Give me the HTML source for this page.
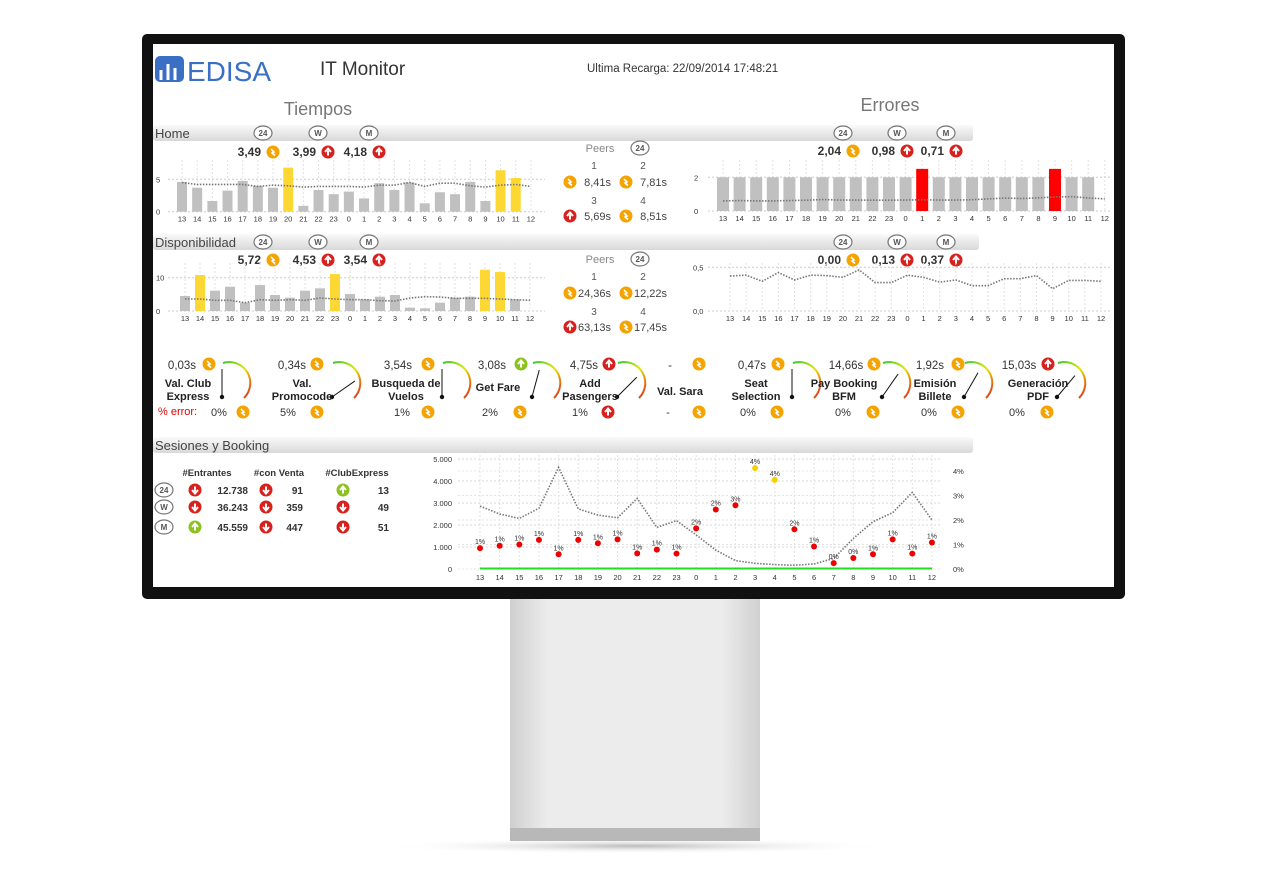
<!DOCTYPE html>
<html><head><meta charset="utf-8"><style>
html,body{margin:0;padding:0;background:#fff;width:1275px;height:889px;overflow:hidden}
svg{display:block;font-family:"Liberation Sans",sans-serif}
</style></head><body>
<svg id="s" width="1275" height="889" viewBox="0 0 1275 889" xmlns="http://www.w3.org/2000/svg">
<defs>
<linearGradient id="bar" x1="0" y1="0" x2="0" y2="1"><stop offset="0" stop-color="#fafafa"/><stop offset="1" stop-color="#d8d8d8"/></linearGradient>
<linearGradient id="stand" x1="0" y1="0" x2="1" y2="0"><stop offset="0" stop-color="#cfcfcf"/><stop offset="0.15" stop-color="#ececec"/><stop offset="0.85" stop-color="#ececec"/><stop offset="1" stop-color="#d0d0d0"/></linearGradient>
<radialGradient id="shadow"><stop offset="0" stop-color="#bbb"/><stop offset="1" stop-color="#fff" stop-opacity="0"/></radialGradient>
<linearGradient id="gaugeG" x1="0" y1="0" x2="1" y2="1"><stop offset="0" stop-color="#33cc33"/><stop offset="0.5" stop-color="#e6e600"/><stop offset="1" stop-color="#e02020"/></linearGradient>
</defs>
<ellipse cx="635" cy="846" rx="260" ry="8" fill="url(#shadow)"/>
<rect x="510" y="596" width="250" height="235" fill="url(#stand)"/>
<rect x="510" y="828" width="250" height="13" fill="#b8b8b8"/>
<rect x="142" y="34" width="983" height="565" rx="5" fill="#111"/>
<rect x="153" y="44" width="961" height="543" fill="#fff"/>
<g id="root"></g>
</svg>
<script>
// ---- data ----
const hours = ["13","14","15","16","17","18","19","20","21","22","23","0","1","2","3","4","5","6","7","8","9","10","11","12"];
const homeVals = [4.6,3.7,1.65,3.25,4.75,4.0,3.7,6.8,0.9,3.35,2.7,3.1,2.05,4.4,3.35,4.5,1.3,3.0,2.7,4.6,1.65,6.4,5.2,0];
const homeTrend = [4.5,4.2,4.2,4.2,4.2,3.9,4.1,4.0,3.8,3.9,3.9,3.9,3.8,4.1,4.1,4.5,3.9,4.4,4.4,4.0,3.8,4.1,4.2,3.9];
const dispVals = [4.5,10.8,6.1,7.3,2.5,7.8,4.8,4.0,6.1,6.8,11.1,5.1,3.5,4.3,4.8,1.0,0.8,2.5,4.0,4.3,12.4,11.7,3.5,0];
const dispTrend = [3.6,3.6,3.2,3.2,2.5,3.4,3.2,3.4,3.2,3.9,3.6,3.4,3.4,3.1,3.0,3.9,4.3,4.2,3.8,3.8,3.8,3.6,3.4,3.2];
const errVals = [2,2,2,2,2,2,2,2,2,2,2,2,2.5,2,2,2,2,2,2,2,2.5,2,2,0];
const errTrend = [0.6,0.62,0.6,0.6,0.62,0.64,0.68,0.65,0.65,0.64,0.64,0.65,0.67,0.65,0.65,0.67,0.72,0.77,0.74,0.78,0.83,0.85,0.77,0.72];
const err2Line = [0.40,0.41,0.34,0.44,0.355,0.41,0.405,0.385,0.47,0.325,0.325,0.41,0.385,0.33,0.355,0.29,0.29,0.37,0.37,0.405,0.255,0.35,0.35,0.34];
const sesEntrantes = [2860,2500,2300,2760,4620,2730,2450,2330,3210,1890,2200,1550,860,380,260,200,170,230,480,1390,2150,2560,3480,2230];
const sesConv = [0.85,0.95,1.0,1.19,0.6,1.19,1.05,1.21,0.64,0.79,0.63,1.66,2.43,2.6,4.12,3.64,1.62,0.92,0.24,0.45,0.6,1.21,0.63,1.08];
const sesConvLabels = ["1%","1%","1%","1%","1%","1%","1%","1%","1%","1%","1%","2%","2%","3%","4%","4%","2%","1%","0%","0%","1%","1%","1%","1%"];
const sesClub = [20,20,20,20,20,20,20,20,20,20,20,20,20,20,20,20,20,20,20,20,20,20,20,20];
const sesLeftTicks = [0,1000,2000,3000,4000,5000];
const sesLeftLabels = ["0","1.000","2.000","3.000","4.000","5.000"];
const sesRightTicks = [0,1,2,3,4];
const sesRightLabels = ["0%","1%","2%","3%","4%"];

const NS="http://www.w3.org/2000/svg";
const root=document.getElementById('root');
function mk(tag,attrs,parent){const e=document.createElementNS(NS,tag);for(const k in attrs)e.setAttribute(k,attrs[k]);(parent||root).appendChild(e);return e;}
function txt(x,y,s,size,opts){opts=opts||{};const e=mk('text',{x:x,y:y,'font-size':size,fill:opts.fill||'#333','text-anchor':opts.anchor||'start','font-weight':opts.bold?'bold':'normal'});e.textContent=s;return e;}

function icon(cx,cy,kind){
  const col={o:'#f5a300',r:'#d8201c',g:'#8cc21e'}[kind[0]];
  const g=mk('g',{});
  mk('circle',{cx:cx,cy:cy,r:6.5,fill:col},g);
  if(kind==='o'){mk('path',{d:`M${cx-2} ${cy-3} L${cx+1} ${cy} L${cx-1} ${cy+1} L${cx+2} ${cy+3.5}`,stroke:'#fff','stroke-width':1.6,fill:'none'},g);}
  else if(kind.length>1&&kind[1]==='d'){mk('path',{d:`M${cx} ${cy-3.5} V${cy+1.5} M${cx-3} ${cy} L${cx} ${cy+3.5} L${cx+3} ${cy}`,stroke:'#fff','stroke-width':2,fill:'none'},g);}
  else{mk('path',{d:`M${cx} ${cy+3.5} V${cy-1.5} M${cx-3} ${cy} L${cx} ${cy-3.5} L${cx+3} ${cy}`,stroke:'#fff','stroke-width':2,fill:'none'},g);}
  return g;
}
function period(cx,cy,label){
  const g=mk('g',{});
  mk('ellipse',{cx:cx,cy:cy,rx:9,ry:7,fill:'#fff',stroke:'#777','stroke-width':1.2},g);
  const t=txt(cx,cy+3,label,8,{anchor:'middle',bold:true,fill:'#555'});g.appendChild(t);
  return g;
}

let e;
e=mk('g',{});


mk('rect',{x:155,y:56,width:29,height:26,rx:5,fill:'#3a6fc4'},e);
mk('path',{d:'M161 80 V70 M168 80 V64 M175 80 V68',stroke:'#fff','stroke-width':3},e);
const lt=txt(187,81,'EDISA',28,{fill:'#3a6fc4'});e.appendChild(lt);
e=txt(320,75,'IT Monitor',19,{fill:'#333'});


e=txt(587,72,'Ultima Recarga: 22/09/2014 17:48:21',11.5,{fill:'#333'});


e=txt(318,115,'Tiempos',18,{anchor:'middle',fill:'#777'});


e=txt(890,111,'Errores',18,{anchor:'middle',fill:'#777'});



function sectionBar(y,label,name,w){
  const g=mk('g',{});
  
  
  mk('rect',{x:153,y:y,width:w,height:16,rx:3,fill:'url(#bar)'},g);
  g.appendChild(txt(155,y+13,label,13,{fill:'#444'}));
}
sectionBar(125,'Home','home-section-header',820);
sectionBar(234,'Disponibilidad','disponibilidad-section-header',826);
sectionBar(437,'Sesiones y Booking','sesiones-section-header',820);

function periodRow(xs,y,vals,kinds,vy,prefix){
  ['24','W','M'].forEach((l,i)=>{const p=period(xs[i],y,l);
    
    
    const t=txt(xs[i]-2,vy,vals[i],12,{anchor:'end',bold:true,fill:'#333'});
    
    
    const ic=icon(xs[i]+10,vy-4,kinds[i]);
    
    
  });
}
periodRow([263,318,369],133,['3,49','3,99','4,18'],['o','r','r'],156,'home-time');
periodRow([843,897,946],133,['2,04','0,98','0,71'],['o','r','r'],155,'home-error');
periodRow([263,318,369],242,['5,72','4,53','3,54'],['o','r','r'],264,'disp-time');
periodRow([843,897,946],242,['0,00','0,13','0,37'],['o','r','r'],264,'disp-error');

function peers(y,vals,kinds,prefix){
  const g=mk('g',{});
  
  
  g.appendChild(txt(600,y,'Peers',11,{anchor:'middle',fill:'#888'}));
  const p=period(640,y-4,'24');g.appendChild(p);
  [[594,y+17,'1'],[643,y+17,'2'],[594,y+52,'3'],[643,y+52,'4']].forEach(a=>g.appendChild(txt(a[0],a[1],a[2],10,{anchor:'middle',fill:'#555'})));
  [[570,y+30],[626,y+30],[570,y+64],[626,y+64]].forEach((a,i)=>{g.appendChild(icon(a[0],a[1],kinds[i]));g.appendChild(txt(a[0]+41,a[1]+4,vals[i],11,{anchor:'end',fill:'#444'}));});
}
peers(152,['8,41s','7,81s','5,69s','8,51s'],['o','o','r','o'],'home');
peers(263,['24,36s','12,22s','63,13s','17,45s'],['o','o','r','o'],'disp');

function chart(cfg){
  const g=mk('g',{});
  
  
  const X=i=>cfg.x0+i*cfg.dx;
  const Y=v=>cfg.y0-v*cfg.ky;
  hours.forEach((h,i)=>{
    mk('line',{x1:X(i),x2:X(i),y1:cfg.top,y2:cfg.y0,stroke:'#e2e2e2','stroke-dasharray':'2,2'},g);
    const t=txt(X(i),cfg.y0+10,h,7.5,{anchor:'middle',fill:'#333'});g.appendChild(t);
  });
  cfg.ticks.forEach((v,i)=>{
    mk('line',{x1:cfg.xl,x2:cfg.xr,y1:Y(v),y2:Y(v),stroke:'#ccc','stroke-dasharray':'2,2'},g);
    g.appendChild(txt(cfg.tx,Y(v)+3,cfg.tickLabels[i],7.5,{fill:'#333'}));
  });
  if(cfg.vals){cfg.vals.forEach((v,i)=>{if(v<=0)return;
    const r=mk('rect',{x:X(i)-cfg.bw/2,y:Y(v),width:cfg.bw,height:v*cfg.ky,fill:v>cfg.hi?cfg.hiCol:'#c0c0c0'},g);
    
    
  });}
  const pts=cfg.line.map((v,i)=>X(i)+','+Y(v)).join(' ');
  const pl=mk('polyline',{points:pts,fill:'none',stroke:'#777','stroke-width':1.6,'stroke-dasharray':'1.5,1.5'},g);
  
  
}
chart({name:'home-time-chart',x0:182,dx:15.17,y0:211.7,ky:6.48,top:160,xl:168,xr:545,tx:156,ticks:[0,5],tickLabels:['0','5'],vals:homeVals,hi:5,hiCol:'#fdd835',bw:10,line:homeTrend});
chart({name:'disp-time-chart',x0:185,dx:15.0,y0:311,ky:3.33,top:263,xl:168,xr:545,tx:156,ticks:[0,10],tickLabels:['0','10'],vals:dispVals,hi:10,hiCol:'#fdd835',bw:10,line:dispTrend});
chart({name:'home-error-chart',x0:723,dx:16.6,y0:211,ky:16.85,top:160,xl:708,xr:1110,tx:694,ticks:[0,2],tickLabels:['0','2'],vals:errVals,hi:2.1,hiCol:'#ff0000',bw:12,line:errTrend});
chart({name:'disp-error-chart',x0:730,dx:16.13,y0:311,ky:87.4,top:263,xl:708,xr:1110,tx:693,ticks:[0,0.5],tickLabels:['0,0','0,5'],vals:null,line:err2Line});

const gauges=[
 [182,209,235,['Val. Club','Express'],188,'0%',219,243,'o','o',90],
 [292,317,345,['Val.','Promocode'],302,'5%',288,317,'o','o',35],
 [398,428,455,['Busqueda de','Vuelos'],406,'1%',402,428,'o','o',90],
 [492,521,545,['Get Fare'],498,'2%',490,520,'g','o',75],
 [584,609,630,['Add','Pasengers'],590,'1%',580,608,'r','r',45],
 [670,699,null,['Val. Sara'],680,'-',668,699,'o','o',0],
 [752,778,805,['Seat','Selection'],756,'0%',748,777,'o','o',90],
 [846,874,895,['Pay Booking','BFM'],844,'0%',843,873,'o','o',55],
 [930,958,977,['Emisión','Billete'],935,'0%',929,958,'o','o',60],
 [1019,1048,1070,['Generación','PDF'],1038,'0%',1017,1047,'r','o',50]];
const gaugeVals=['0,03s','0,34s','3,54s','3,08s','4,75s','-','0,47s','14,66s','1,92s','15,03s'];
gauges.forEach((a,i)=>{
  const g=mk('g',{});
  
  
  g.appendChild(txt(a[0],369,gaugeVals[i],11.5,{anchor:'middle',fill:'#333'}));
  g.appendChild(icon(a[1],364,a[8]));
  if(a[2]){
    const cx=a[2]-12,cy=384,r=21;
    mk('path',{d:`M${cx} ${cy-r} A${r} ${r} 0 0 1 ${cx+r} ${cy+14}`,stroke:'url(#gaugeG)','stroke-width':2,fill:'none'},g);
    const ang=a[10]*Math.PI/180;
    const px=cx-1,py=cy+13;
    mk('line',{x1:px,y1:py,x2:px+Math.cos(ang)*28,y2:py-Math.sin(ang)*28,stroke:'#111','stroke-width':1},g);
    mk('circle',{cx:px,cy:py,r:2.2,fill:'#111'},g);
  }
  const n=a[3];
  n.forEach((s,k)=>g.appendChild(txt(a[4],(n.length===1?(s==='Val. Sara'?395:391):387+k*13),s,11,{anchor:'middle',bold:true,fill:'#222'})));
  g.appendChild(txt(a[6],416,a[5],11,{anchor:'middle',fill:'#333'}));
  g.appendChild(icon(a[7],412,a[9]));
});
e=txt(158,415,'% error:',11,{fill:'#e00000'});



const tbl=mk('g',{});


[['#Entrantes',207],['#con Venta',279],['#ClubExpress',357]].forEach(h=>tbl.appendChild(txt(h[1],476,h[0],9.5,{anchor:'middle',bold:true,fill:'#333'})));
const rows=[['24',490,['rd','12.738','rd','91','gu','13']],['W',507,['rd','36.243','rd','359','rd','49']],['M',527,['gu','45.559','rd','447','rd','51']]];
rows.forEach(r=>{tbl.appendChild(period(164,r[1],r[0]));
  [[195,248],[266,303],[343,389]].forEach((c,k)=>{tbl.appendChild(icon(c[0],r[1],r[2][k*2]));tbl.appendChild(txt(c[1],r[1]+4,r[2][k*2+1],10,{anchor:'end',bold:true,fill:'#333'}));});
});

(function(){
  const g=mk('g',{});
  
  
  const X=i=>480+i*19.65, YL=v=>569-v*0.022, YR=p=>569-p*24.5;
  hours.forEach((h,i)=>{mk('line',{x1:X(i),x2:X(i),y1:455,y2:569,stroke:'#e2e2e2','stroke-dasharray':'2,2'},g);g.appendChild(txt(X(i),580,h,7.5,{anchor:'middle',fill:'#333'}));});
  sesLeftTicks.forEach((v,i)=>{mk('line',{x1:458,x2:942,y1:YL(v),y2:YL(v),stroke:'#d8d8d8','stroke-dasharray':'2,2'},g);g.appendChild(txt(452,YL(v)+3,sesLeftLabels[i],7.5,{anchor:'end',fill:'#333'}));});
  sesRightTicks.forEach((v,i)=>{mk('line',{x1:458,x2:942,y1:YR(v),y2:YR(v),stroke:'#e4e4e4','stroke-dasharray':'2,2'},g);g.appendChild(txt(953,YR(v)+3,sesRightLabels[i],7.5,{fill:'#333'}));});
  const cl=mk('polyline',{points:sesClub.map((v,i)=>X(i)+','+YL(v)).join(' '),fill:'none',stroke:'#22dd22','stroke-width':2},g);
  
  
  const el=mk('polyline',{points:sesEntrantes.map((v,i)=>X(i)+','+YL(v)).join(' '),fill:'none',stroke:'#777','stroke-width':1.6,'stroke-dasharray':'1.5,1.5'},g);
  
  
  sesConv.forEach((p,i)=>{
    const c=mk('circle',{cx:X(i),cy:YR(p),r:3,fill:p>3.5?'#f5d000':'#ee0000'},g);
    
    
    g.appendChild(txt(X(i),YR(p)-4,sesConvLabels[i],7,{anchor:'middle',fill:'#333'}));
  });
})();
</script>
</body></html>
